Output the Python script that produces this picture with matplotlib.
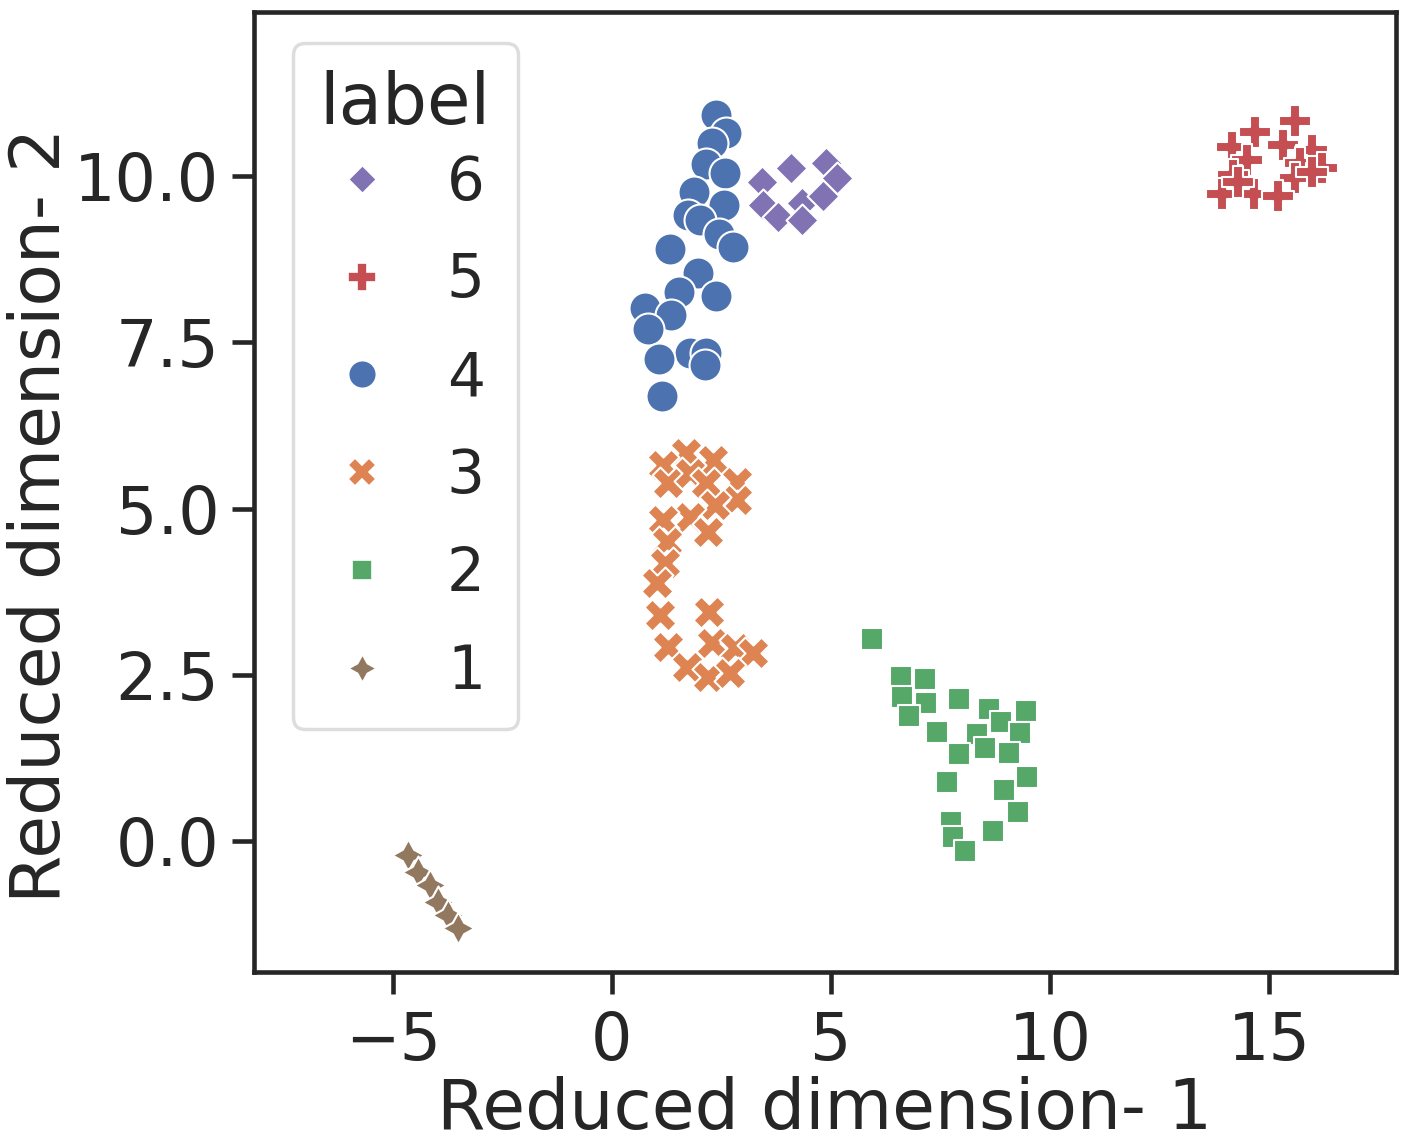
import matplotlib
matplotlib.use("Agg")
import matplotlib.pyplot as plt
from matplotlib.lines import Line2D

# ---- data ----
labels = [4, 3, 2, 5, 6, 1]
legend_order = [6, 5, 4, 3, 2, 1]

x4 = [2.37, 2.60, 2.28, 2.15, 2.58, 1.87, 2.56, 1.74, 2.01, 2.44, 2.76, 1.32, 1.96, 1.53, 2.37, 0.75, 1.35, 0.82, 1.78, 2.15, 2.12, 1.07, 1.14]
y4 = [10.92, 10.65, 10.50, 10.18, 10.05, 9.76, 9.56, 9.41, 9.34, 9.13, 8.93, 8.90, 8.54, 8.26, 8.20, 8.02, 7.92, 7.70, 7.34, 7.34, 7.16, 7.25, 6.69]

x6 = [3.42, 4.09, 4.89, 5.14, 3.45, 3.79, 4.34, 4.34, 4.82]
y6 = [9.91, 10.12, 10.20, 9.98, 9.56, 9.38, 9.59, 9.34, 9.71]

x3 = [1.69, 2.31, 1.16, 1.28, 1.78, 2.15, 2.85, 2.85, 2.35, 1.78, 1.16, 2.19, 1.26, 1.21, 1.03, 1.10, 2.21, 1.28, 2.28, 2.81, 3.22, 1.71, 2.19, 2.69]
y3 = [5.83, 5.73, 5.65, 5.38, 5.53, 5.38, 5.40, 5.13, 5.05, 4.87, 4.83, 4.65, 4.50, 4.18, 3.88, 3.40, 3.44, 2.92, 2.98, 2.90, 2.83, 2.62, 2.47, 2.53]

x2 = [5.94, 6.60, 7.15, 6.62, 7.17, 6.78, 7.92, 8.61, 9.45, 8.88, 7.42, 8.33, 9.32, 7.92, 8.52, 9.06, 9.47, 7.65, 8.95, 9.27, 7.74, 7.79, 8.70, 8.06]
y2 = [3.04, 2.47, 2.44, 2.17, 2.08, 1.88, 2.14, 1.98, 1.95, 1.79, 1.64, 1.61, 1.62, 1.31, 1.40, 1.32, 0.96, 0.89, 0.77, 0.44, 0.29, 0.06, 0.15, -0.15]

x5 = [15.59, 14.68, 14.16, 15.32, 15.98, 14.50, 15.71, 16.21, 14.18, 15.59, 15.98, 13.93, 14.66, 15.21, 14.29]
y5 = [10.83, 10.66, 10.44, 10.47, 10.39, 10.24, 10.20, 10.12, 10.02, 9.97, 10.06, 9.74, 9.74, 9.71, 9.91]

x1 = [-4.66, -4.43, -4.16, -3.97, -3.74, -3.52]
y1 = [-0.21, -0.47, -0.66, -0.92, -1.11, -1.31]

xs = {4: x4, 3: x3, 2: x2, 5: x5, 6: x6, 1: x1}
ys = {4: y4, 3: y3, 2: y2, 5: y5, 6: y6, 1: y1}

# ---- styles ----
colors = {4: "#4C72B0", 3: "#DD8452", 2: "#55A868", 5: "#C44E52", 6: "#8172B3", 1: "#937860"}
markers = {4: "o", 3: "X", 2: (4, 0, 45), 5: "P", 6: (4, 0, 0), 1: (4, 1, 0)}
TXT = "#262626"

plt.rcParams["font.family"] = ["DejaVu Sans"]
fig = plt.figure(figsize=(14.06, 11.44), dpi=100)
ax = fig.add_axes([0.1807, 0.1503, 0.8122, 0.8392])

for lab in labels:
    ax.scatter(xs[lab], ys[lab], s=530, marker=markers[lab], c=colors[lab],
               edgecolors="white", linewidths=1.5, zorder=2)

ax.set_xlim(-8.17, 17.9)
ax.set_ylim(-1.97, 12.47)
ax.set_xticks([-5, 0, 5, 10, 15])
ax.set_yticks([0.0, 2.5, 5.0, 7.5, 10.0])
ax.set_yticklabels(["0.0", "2.5", "5.0", "7.5", "10.0"])
ax.tick_params(axis="both", labelsize=47, length=16, width=3.3, color=TXT,
               labelcolor=TXT)
ax.tick_params(axis="y", pad=9)
ax.tick_params(axis="x", pad=11)
for sp in ax.spines.values():
    sp.set_linewidth(3.3)
    sp.set_color(TXT)

ax.set_xlabel("Reduced dimension- 1", fontsize=50, color=TXT, labelpad=2)
ax.set_ylabel("Reduced dimension- 2", fontsize=50, color=TXT, labelpad=0)
ax.yaxis.label.set_y(0.476)

handles = [Line2D([], [], linestyle="none", marker=markers[l], color=colors[l],
                  markersize=20, markeredgecolor="white", markeredgewidth=1.2)
           for l in legend_order]
leg = ax.legend(handles, [str(l) for l in legend_order], title="label",
                loc="upper left", bbox_to_anchor=(0.034, 0.968), borderaxespad=0,
                fontsize=43, title_fontsize=51, labelspacing=0.65,
                handlelength=1.23, handletextpad=0.8, borderpad=0.45,
                frameon=True, fancybox=True)
leg._legend_box.sep = 10.8
leg.get_frame().set_edgecolor("#d5d5d5")
leg.get_frame().set_linewidth(2.5)
for t in leg.get_texts():
    t.set_color(TXT)
leg.get_title().set_color(TXT)

fig.savefig("out.png", dpi=100, facecolor="white")
